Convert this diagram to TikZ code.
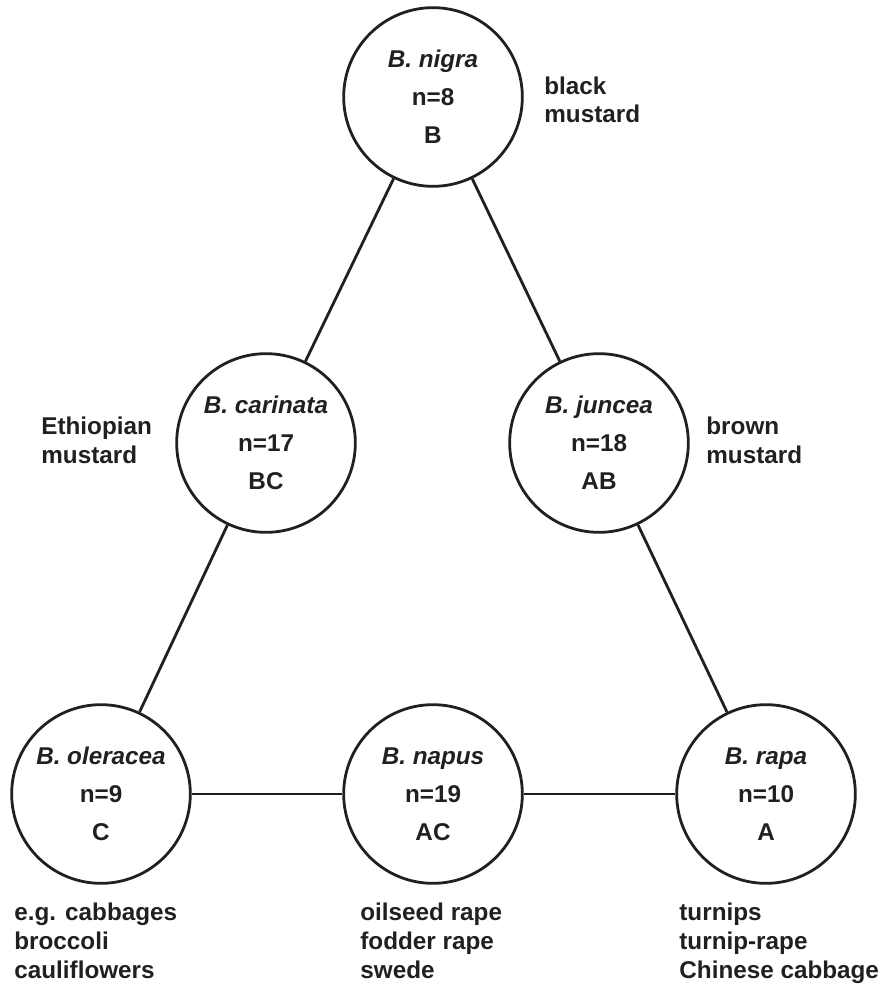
\documentclass[tikz,border=0pt]{standalone}
\usepackage{fontspec}
\setmainfont{Liberation Sans}
\usepackage[dvipsnames]{xcolor}
\definecolor{ink}{HTML}{231F20}

\begin{document}
\begin{tikzpicture}[x=0.75pt,y=-0.75pt,-,line width=2.1pt,draw=ink,text=ink,
  genome node/.style={circle,draw,inner sep=0pt,minimum size=134pt,align=center,font=\bfseries\fontsize{18.2}{28.5}\selectfont},
  crop label/.style={anchor=base west,inner sep=0pt,align=left,font=\bfseries\fontsize{18.2}{21.4}\selectfont}]

            \useasboundingbox (0,0) rectangle (889,987);

            \node[genome node] (B) at (433,97) {\textit{B. nigra}\\n=8\\B};
            \node[genome node] (BC) at (266,443) {\textit{B. carinata}\\n=17\\BC};
            \node[genome node] (AB) at (599,443) {\textit{B. juncea}\\n=18\\AB};
            \node[genome node] (C) at (101,794) {\textit{B. oleracea}\\n=9\\C};
            \node[genome node] (AC) at (433,794) {\textit{B. napus}\\n=19\\AC};
            \node[genome node] (A) at (766,794) {\textit{B. rapa}\\n=10\\A};

            % anchor is the baseline of the last line
            \node[crop label] (lB) at (543,123) {black\\mustard};
            \node[crop label] (lBC) at (40,463) {Ethiopian\\mustard};
            \node[crop label] (lAB) at (705,463) {brown\\mustard};
            \node[crop label] (lC) at (13,978) {e.g. cabbages\\broccoli\\cauliflowers};
            \node[crop label] (lAC) at (359,978) {oilseed rape\\fodder rape\\swede};
            \node[crop label] (lA) at (678,978) {turnips\\turnip-rape\\Chinese cabbage};

            \draw[-] (B) to (BC);
            \draw[-] (B) to (AB);
            \draw[-] (BC) to (C);
            \draw[-] (AB) to (A);
            \draw[-] (C) to (AC);
            \draw[-] (AC) to (A);

            ;
        \end{tikzpicture}
\end{document}
